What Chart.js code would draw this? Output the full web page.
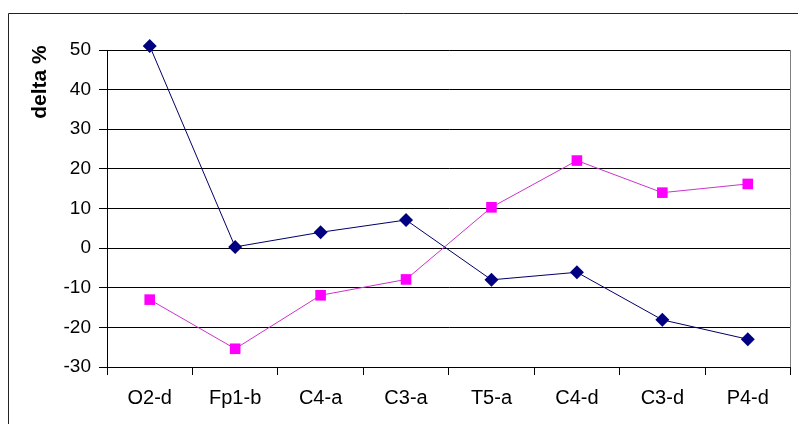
<!DOCTYPE html>
<html>
<head>
<meta charset="utf-8">
<script src="https://cdn.jsdelivr.net/npm/chart.js@4/dist/chart.umd.min.js"></script>
<style>
html,body{margin:0;padding:0;background:#fff;}
#wrap{width:798px;height:424px;position:relative;}
</style>
</head>
<body>
<div id="wrap"><canvas id="c" width="798" height="424"></canvas></div>
<script>
const categories = ["O2-d", "Fp1-b", "C4-a", "C3-a", "T5-a", "C4-d", "C3-d", "P4-d"];
const seriesNavy = [51, 0.3, 4, 7.1, -8, -6.1, -18.1, -23];
const seriesMagenta = [-13, -25.4, -11.9, -7.9, 10.3, 22.1, 14, 16.2];
const yTicks = [50, 40, 30, 20, 10, 0, -10, -20, -30];
const yTitle = "delta %";

const FONT = "'Liberation Sans', Arial, sans-serif";

const framePlugin = {
  id: 'frame',
  beforeDraw(chart) {
    const ctx = chart.ctx;
    ctx.save();
    ctx.fillStyle = '#fff';
    ctx.fillRect(0, 0, chart.width, chart.height);
    ctx.strokeStyle = '#222';
    ctx.lineWidth = 1;
    ctx.beginPath();
    ctx.moveTo(8.5, chart.height + 2);
    ctx.lineTo(8.5, 13.5);
    ctx.lineTo(chart.width + 2, 13.5);
    ctx.stroke();
    ctx.restore();
  },
  afterDraw(chart) {
    const ctx = chart.ctx;
    const a = chart.chartArea;
    ctx.save();
    ctx.strokeStyle = '#808080';
    ctx.lineWidth = 1;
    ctx.beginPath();
    ctx.moveTo(Math.round(a.right) - 0.5, a.top);
    ctx.lineTo(Math.round(a.right) - 0.5, a.bottom);
    ctx.stroke();
    // y-axis title
    ctx.translate(40, 82);
    ctx.rotate(-Math.PI / 2);
    ctx.fillStyle = '#000';
    ctx.font = "bold 21px " + FONT;
    ctx.textAlign = 'center';
    ctx.textBaseline = 'middle';
    ctx.fillText(yTitle, 0, 0);
    ctx.restore();
  }
};

new Chart(document.getElementById('c'), {
  type: 'line',
  data: {
    labels: categories,
    datasets: [
      {
        label: 'A',
        data: seriesNavy,
        borderColor: '#000066',
        backgroundColor: '#000080',
        borderWidth: 1,
        pointStyle: 'rectRot',
        pointRadius: 7,
        pointBorderWidth: 0,
        pointBorderColor: '#000080',
        tension: 0,
        clip: false
      },
      {
        label: 'B',
        data: seriesMagenta,
        borderColor: '#cc33cc',
        backgroundColor: '#ff00ff',
        borderWidth: 1,
        pointStyle: 'rect',
        pointRadius: 7.5,
        pointBorderWidth: 0,
        pointBorderColor: '#ff00ff',
        tension: 0,
        clip: false
      }
    ]
  },
  options: {
    responsive: false,
    animation: false,
    devicePixelRatio: 1,
    layout: { padding: { top: 50, right: 1, left: 0, bottom: 0 } },
    plugins: { legend: { display: false }, tooltip: { enabled: false } },
    scales: {
      x: {
        offset: true,
        grid: { display: true, drawOnChartArea: false, drawTicks: true, tickLength: 8, color: '#000', offset: true },
        border: { display: true, color: '#000', width: 1 },
        ticks: { color: '#000', font: { family: FONT, size: 20 }, padding: 11, maxRotation: 0 },
        afterFit(s) { s.height = 57; }
      },
      y: {
        min: -30, max: 50,
        afterBuildTicks(s) { s.ticks = yTicks.map(v => ({ value: v })); },
        grid: { color: '#000', lineWidth: 1, drawTicks: true, tickLength: 8 },
        border: { display: true, color: '#000', width: 1 },
        ticks: { color: '#000', font: { family: FONT, size: 19 }, padding: 8 },
        afterFit(s) { s.width = 107; }
      }
    }
  },
  plugins: [framePlugin]
});
</script>
</body>
</html>
